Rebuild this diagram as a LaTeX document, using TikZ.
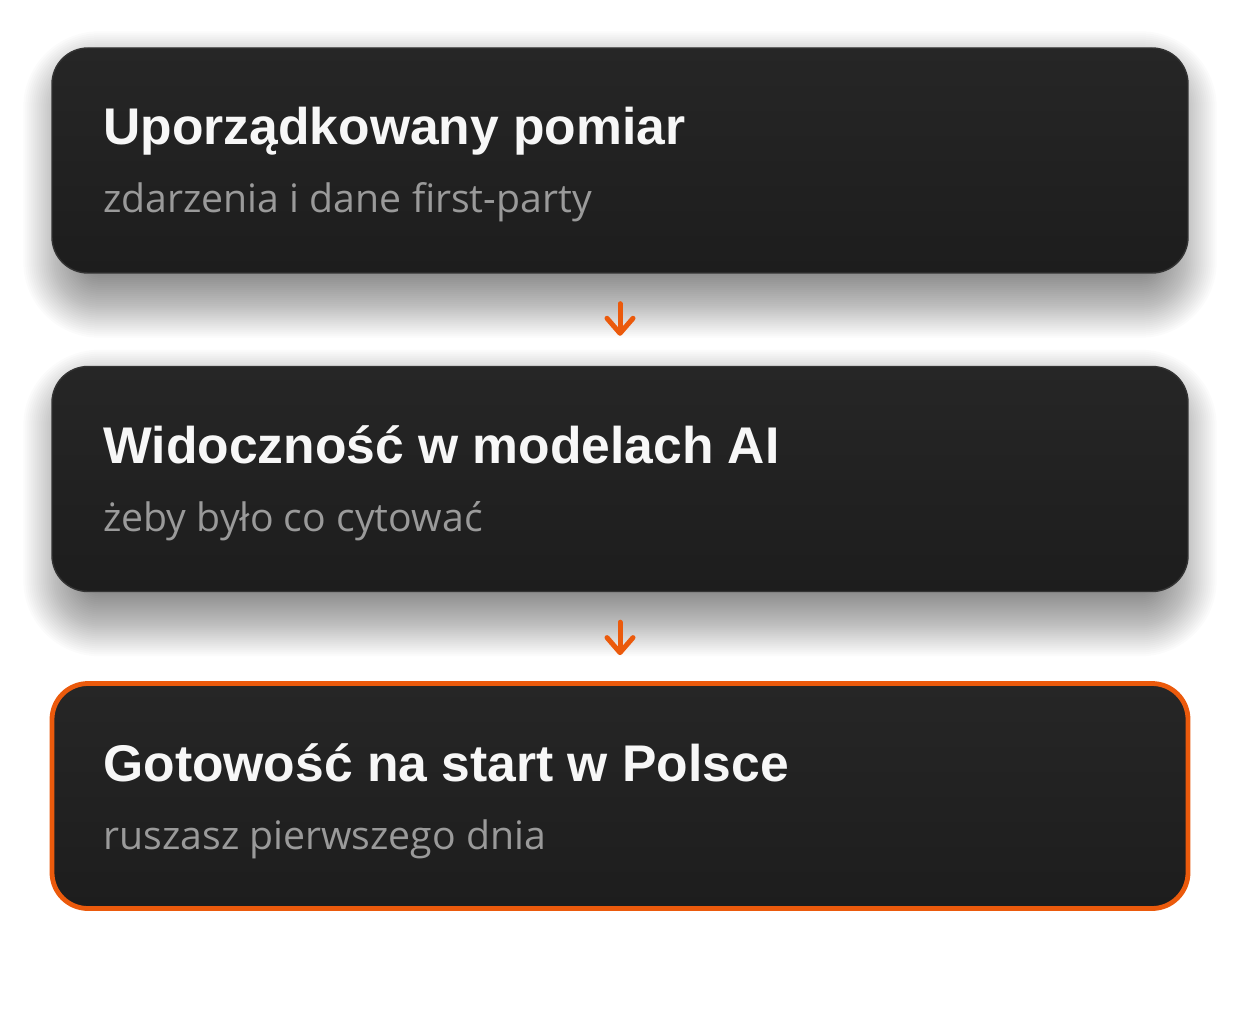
\documentclass[tikz,border=0pt]{standalone}
\usepackage{fontspec}
\setmainfont{Open Sans}
\newfontfamily\titlefont{Liberation Sans}
\usetikzlibrary{arrows.meta}
\pgfdeclarelayer{background}
\pgfsetlayers{background,main}
\definecolor{boxtop}{HTML}{262626}
\definecolor{boxbot}{HTML}{1D1D1D}
\definecolor{boxline}{HTML}{333333}
\definecolor{accent}{HTML}{EB5A0C}
\definecolor{subgray}{HTML}{9A9A9A}
\definecolor{titlewhite}{HTML}{F7F7F7}
\tikzset{
  card/.style={rectangle, rounded corners=18pt, minimum width=568pt, minimum height=112.5pt,
    top color=boxtop, bottom color=boxbot, draw=boxline, line width=0.7pt, inner sep=0pt},
  hicard/.style={card, draw=accent, line width=2.4pt},
  titletext/.style={anchor=base west, inner sep=0pt, text=titlewhite, font=\titlefont\fontsize{25.8}{30}\selectfont\bfseries},
  subtext/.style={anchor=base west, inner sep=0pt, text=subgray, font=\fontsize{19.6}{23}\selectfont},
  flow/.style={draw=accent, line width=2.5pt, line cap=round, -{Straight Barb[length=7.5pt,width=13pt,line cap=round,line join=round]}}
}
\newcommand{\cardshadow}[1]{%
  \foreach \e in {-12,-11,...,20}{%
    \pgfmathsetmacro{\rr}{max(18+\e,4)}%
    \pgfmathsetmacro{\hx}{\e-6}%
    \fill[black, opacity=0.015, rounded corners=\rr pt]
      ([xshift=-\hx pt, yshift=-12pt-\e pt]#1.south west) rectangle ([xshift=\hx pt, yshift=-12pt+\e pt]#1.north east);
  }%
}
\begin{document}
\begin{tikzpicture}[x=0.5pt,y=-0.5pt]
\useasboundingbox (0,0) rectangle (1240,1010);
\node[card] (b1) at (620,160.5) {};
\node[card] (b2) at (620,479) {};
\node[hicard] (b3) at (620,796) {};
\begin{pgfonlayer}{background}
\fill[white] (0,0) rectangle (1240,1010);
\cardshadow{b1}
\cardshadow{b2}
\end{pgfonlayer}
\node[titletext] (t1) at (103,145) {Uporządkowany pomiar};
\node[subtext] (s1) at (103,213) {zdarzenia i dane first-party};
\node[titletext] (t2) at (103,463) {Widoczność w modelach AI};
\node[subtext] (s2) at (103,531) {żeby było co cytować};
\node[titletext] (t3) at (103,781) {Gotowość na start w Polsce};
\node[subtext] (s3) at (103,849) {ruszasz pierwszego dnia};
\draw[flow, shorten <=15pt, shorten >=15pt] (b1.south) -- (b2.north);
\draw[flow, shorten <=15pt, shorten >=13pt] (b2.south) -- (b3.north);
\end{tikzpicture}
\end{document}
